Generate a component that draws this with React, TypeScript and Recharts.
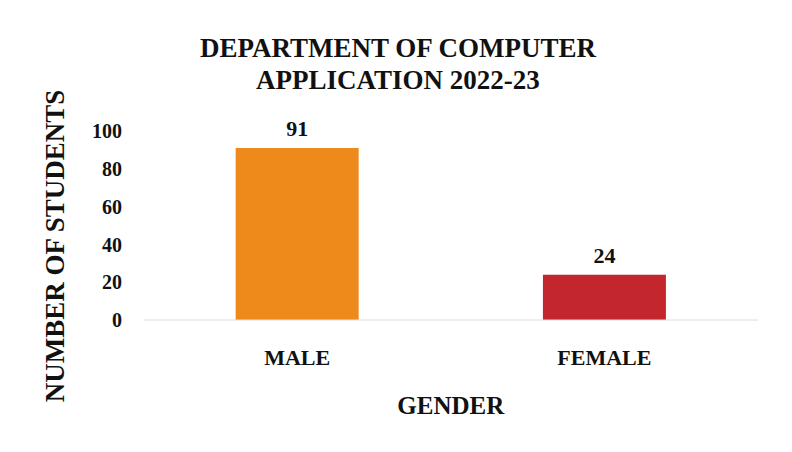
import React from 'react';
import { BarChart, Bar, XAxis, YAxis, Cell, LabelList, Label } from 'recharts';

const categories = ['MALE', 'FEMALE'];
const students = [91, 24];
const barColors = ['#EE8A1C', '#C4262E'];
const yTicks = [0, 20, 40, 60, 80, 100];
const titleLines = ['DEPARTMENT OF COMPUTER', 'APPLICATION 2022-23'];
const xTitle = 'GENDER';
const yTitle = 'NUMBER OF STUDENTS';

const data = categories.map((c, i) => ({ name: c, value: students[i] }));

const FONT = '"Liberation Serif", "Times New Roman", serif';

const YTitle = () => (
  <text
    x={55}
    y={246}
    transform="rotate(-90 55 246)"
    textAnchor="middle"
    dominantBaseline="central"
    fontFamily={FONT}
    fontWeight="bold"
    fontSize={27}
    fill="#111"
  >
    {yTitle}
  </text>
);

export default function App() {
  return (
    <div
      style={{
        position: 'absolute',
        left: 0,
        top: 0,
        width: 792,
        height: 452,
        background: '#fff',
      }}
    >
      <div
        style={{
          position: 'absolute',
          left: 0,
          top: 32,
          width: 796,
          textAlign: 'center',
          fontFamily: FONT,
          fontWeight: 'bold',
          fontSize: 27,
          lineHeight: '32px',
          color: '#111',
        }}
      >
        {titleLines.map((l) => (
          <div key={l}>{l}</div>
        ))}
      </div>
      <BarChart
        width={792}
        height={452}
        data={data}
        margin={{ top: 131, right: 34, left: 0, bottom: 0 }}
        barCategoryGap="30%"
      >
        <XAxis
          dataKey="name"
          height={132}
          tickLine={false}
          tickSize={0}
          tickMargin={29}
          axisLine={{ stroke: '#dcdcdc', strokeWidth: 1 }}
          tick={{ fontFamily: FONT, fontWeight: 'bold', fontSize: 22, fill: '#111' }}
        >
          <Label
            value={xTitle}
            position="insideBottom"
            offset={38}
            style={{ fontFamily: FONT, fontWeight: 'bold', fontSize: 25, fill: '#111' }}
          />
        </XAxis>
        <YAxis
          width={143.5}
          domain={[0, 100]}
          ticks={yTicks}
          tickLine={false}
          axisLine={false}
          tickSize={0}
          tickMargin={21.5}
          tick={{ fontFamily: FONT, fontWeight: 'bold', fontSize: 20, fill: '#111' }}
        >
          <Label content={<YTitle />} />
        </YAxis>
        <Bar dataKey="value" isAnimationActive={false}>
          {data.map((d, i) => (
            <Cell key={d.name} fill={barColors[i]} />
          ))}
          <LabelList
            dataKey="value"
            position="top"
            offset={12}
            style={{ fontFamily: FONT, fontWeight: 'bold', fontSize: 22, fill: '#111' }}
          />
        </Bar>
      </BarChart>
    </div>
  );
}
